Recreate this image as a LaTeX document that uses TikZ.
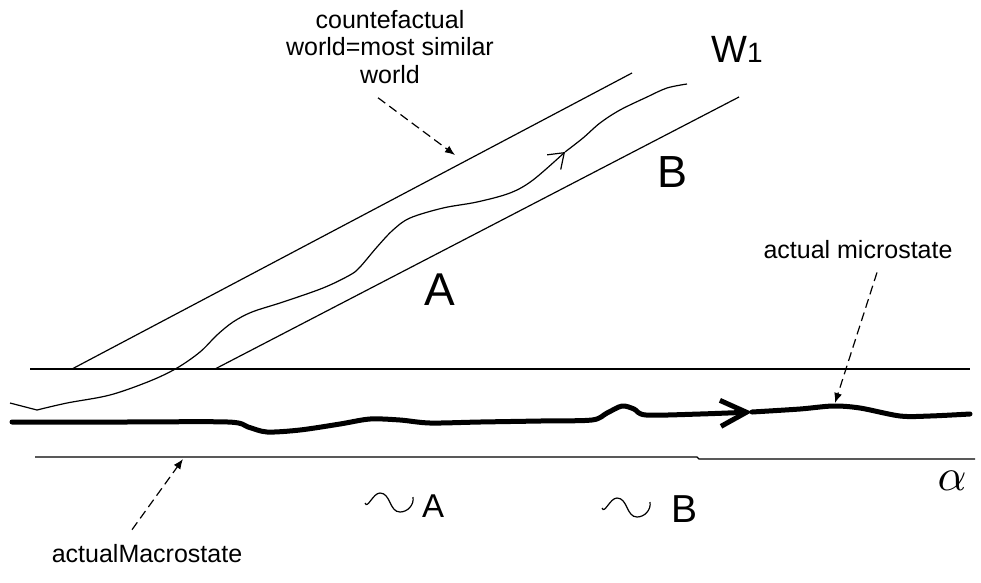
\documentclass[tikz,border=0pt]{standalone}
\usepackage{fontspec}
\setmainfont{Liberation Sans}
\usetikzlibrary{arrows.meta}
\tikzset{
  wall/.style={line width=1.2pt},
  history/.style={line width=1.2pt,line join=round},
  actual/.style={line width=5pt,line cap=round,line join=round},
  callout/.style={line width=1.2pt,dash pattern=on 9pt off 5pt,
    -{Latex[length=10pt,width=8pt]}},
  lbl/.style={inner sep=0pt,font=\fontsize{25}{27.5}\selectfont,align=center},
  big/.style={inner sep=0pt,anchor=base,font=\fontsize{#1}{#1}\selectfont},
}
\begin{document}
\begin{tikzpicture}[x=1pt,y=-1pt]
  \useasboundingbox (0,0) rectangle (981,582);
  % macrostate alpha
  \draw[wall] (30,369) -- (970,369);
  \draw[wall] (35,457) -- (697,457) -- (699,459) -- (975,459);
  % branching world W1
  \draw[wall] (72,369) -- (632,73);
  \draw[wall] (215,369) -- (739,97);
  % counterfactual history
  \draw[history] (10,403) -- (37,410);
  \draw[history,-{Straight Barb[length=14pt,width=20pt]}] plot[smooth,tension=0.55]
    coordinates{(37,410) (67,403) (110,395) (150,381) (177,368)
      (200,352) (217,335) (233,322) (252,312) (283,302) (323,288) (350,275)
      (360,267) (377,247) (393,230) (410,218) (443,208) (477,202) (510,193)
      (533,180) (565,152)};
  \draw[history] plot[smooth,tension=0.55]
    coordinates{(565,152) (583,138) (600,123) (620,110) (647,97) (667,88) (687,84)};
  % actual microstate history
  \draw[actual,-{Straight Barb[length=26pt,width=26pt]}] plot[smooth,tension=0.5]
    coordinates{(12,422) (120,422) (228,422) (248,427) (267,432) (300,430)
      (340,424) (370,419) (400,420) (430,423) (480,422) (540,421) (592,420)
      (607,413) (622,406) (634,409) (646,415) (700,414) (752,412)};
  \draw[actual] plot[smooth,tension=0.5]
    coordinates{(752,412) (800,409) (833,406) (860,408) (900,416) (930,416) (970,414)};
  % labels
  \node[lbl,anchor=north] (cfl) at (390,10) {countefactual\\world=most similar\\world};
  \node[lbl,anchor=base] (micro) at (858,258) {actual microstate};
  \node[lbl,anchor=base] (macro) at (147,562) {actualMacrostate};
  \node[big=38] (w1) at (737,62) {W{\fontsize{28}{28}\selectfont 1}};
  \node[big=46] (a) at (440,305) {A};
  \node[big=45] (b) at (672,187) {B};
  \node[big=33] (na) at (433,517) {A};
  \node[big=39] (nb) at (684,522) {B};
  \node[inner sep=0pt,anchor=base] (alpha) at (952,490) {\scalebox{4.5}{$\alpha$}};
  % negation signs
  \foreach \x/\y in {365/503,602/508}
    \draw[line width=1.2pt] (\x,\y) to[out=-70,in=180] (\x+15,\y-10)
      to[out=0,in=180] (\x+35,\y+9) to[out=0,in=-80] (\x+48,\y-6);
  % pointers
  \coordinate (cfTip) at (455,155);
  \coordinate (microTip) at (835,403);
  \coordinate (macroTip) at (183,459);
  \draw[callout] (cfl.south) ++(-12,14) -- (cfTip);
  \draw[callout] (micro.south) ++(19,14) -- (microTip);
  \draw[callout] (macro.north) ++(-15,-14) -- (macroTip);
\end{tikzpicture}
\end{document}
